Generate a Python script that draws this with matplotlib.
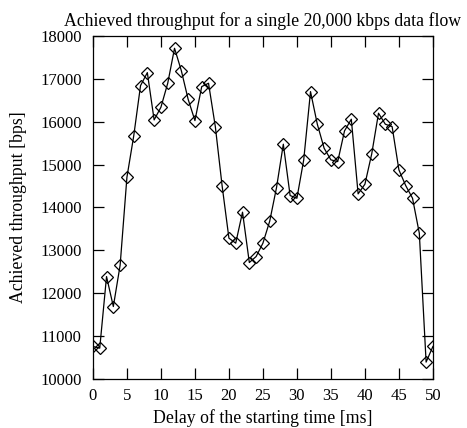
import matplotlib
matplotlib.use("Agg")
import matplotlib.pyplot as plt

plt.rcParams['font.family'] = ['Liberation Serif', 'DejaVu Serif']

delay_ms = list(range(0, 51))
throughput_bps = [
    10758, 10720, 12389, 11690, 12655, 14706, 15669, 16842, 17145, 16042,
    16338, 16897, 17713, 17191, 16524, 16026, 16819, 16897, 15886, 14503,
    13284, 13168, 13890, 12716, 12856, 13168, 13681, 14464, 15475, 14278,
    14216, 15110, 16702, 15942, 15382, 15110, 15070, 15786, 16058, 14317,
    14543, 15249, 16198, 15942, 15886, 14876, 14510, 14216, 13400, 10394,
    10758,
]
x_ticks = list(range(0, 51, 5))
y_ticks = list(range(10000, 18001, 1000))

fig = plt.figure(figsize=(4.67, 4.28), dpi=100)
ax = fig.add_axes([0.199, 0.1145, 0.728, 0.8015])

ax.plot(delay_ms, throughput_bps, color='black', linewidth=0.9,
        marker='D', markersize=6.5, markerfacecolor='none',
        markeredgecolor='black', markeredgewidth=0.9)

ax.set_xlim(0, 50)
ax.set_ylim(10000, 18000)
ax.set_xticks(x_ticks)
ax.set_yticks(y_ticks)
ax.tick_params(direction='in', top=True, right=True, length=8, width=0.9,
               labelsize=12)
ax.tick_params(axis='x', pad=6.5)
ax.tick_params(axis='y', pad=8)
for spine in ax.spines.values():
    spine.set_linewidth(0.9)

ax.set_title('Achieved throughput for a single 20,000 kbps data flow',
             fontsize=12.8, pad=7)
ax.set_xlabel('Delay of the starting time [ms]', fontsize=12.8, labelpad=3.5)
ax.set_ylabel('Achieved throughput [bps]', fontsize=12.8, labelpad=9.5)

fig.savefig('out.png', dpi=100)
